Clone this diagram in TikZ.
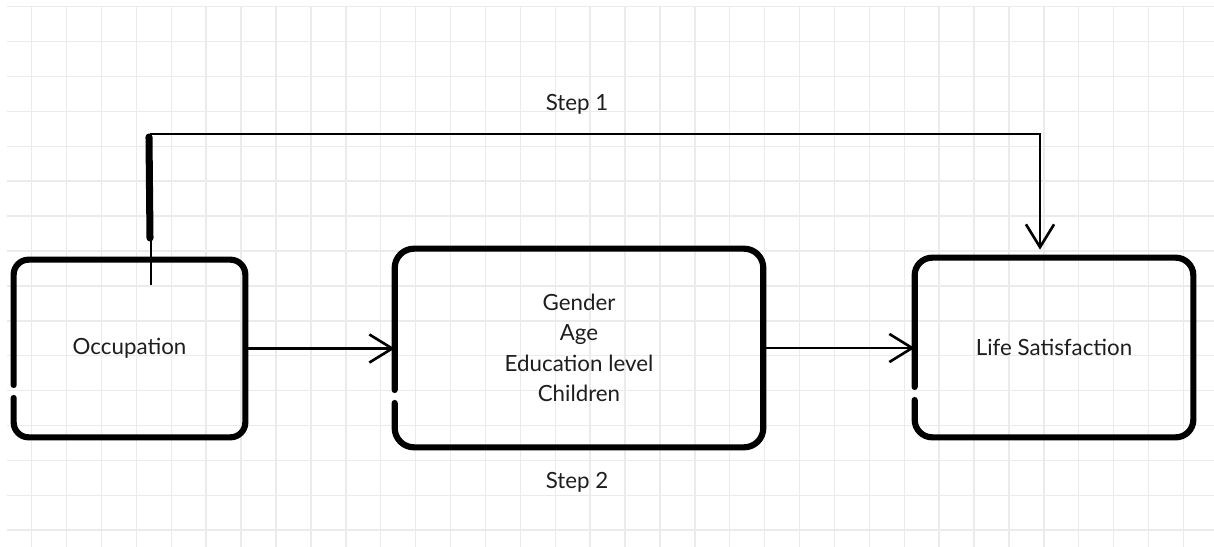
\documentclass[tikz,border=0pt]{standalone}
\usepackage{fontspec}
\setmainfont{Lato}
\usetikzlibrary{arrows.meta}
\definecolor{gridgray}{HTML}{EBEBEB}
\definecolor{ink}{HTML}{1E1E1E}
\begin{document}
\begin{tikzpicture}[x=0.02cm,y=-0.02cm]
		\tikzset{box/.style = {shape=rectangle,align=center,text=ink,font=\fontsize{12.7pt}{17.4pt}\selectfont}}
		\tikzset{border/.style = {draw=black,line width=3.5pt,rounded corners=10pt,line cap=round}}
		\tikzset{link/.style = {-{Straight Barb[length=13pt,width=16pt,line width=1.5pt]},draw=black,line width=1.6pt}}
		\tikzset{label/.style = {text=ink,font=\fontsize{12.7pt}{14pt}\selectfont}}
		\useasboundingbox (0,0) rectangle (1214,547);
		\fill[white] (0,0) rectangle (1214,547);
		% grid
		\foreach \k in {0,...,33}
			\draw[gridgray,line width=0.8pt] (31.7+34.9*\k,7) -- (31.7+34.9*\k,547);
		\foreach \k in {0,...,15}
			\draw[gridgray,line width=0.8pt] (7,6.7+34.9*\k) -- (1214,6.7+34.9*\k);
		% boxes
		\node[box,minimum width=4.62cm,minimum height=3.54cm] (occ) at (129.5,348.5) {Occupation};
		\node[box,minimum width=7.36cm,minimum height=3.96cm] (ctrl) at (579,348) {Gender\\Age\\Education level\\Children};
		\node[box,minimum width=5.56cm,minimum height=3.58cm] (life) at (1054,347.5) {Life Satisfaction};
		\draw[border,rounded corners=8.5pt] ([yshift=-0.73cm]occ.west) -- (occ.north west) -- (occ.north east) -- (occ.south east) -- (occ.south west) -- ([yshift=-0.99cm]occ.west);
		\draw[border,rounded corners=11pt] ([yshift=-0.84cm]ctrl.west) -- (ctrl.north west) -- (ctrl.north east) -- (ctrl.south east) -- (ctrl.south west) -- ([yshift=-1.10cm]ctrl.west);
		\draw[border] ([yshift=-0.79cm]life.west) -- (life.north west) -- (life.north east) -- (life.south east) -- (life.south west) -- ([yshift=-1.05cm]life.west);
		% step 1
		\coordinate (s1) at (151,285);
		\draw[link] (s1) -- (s1 |- 0,134) -| ([xshift=-0.28cm,yshift=0.16cm]life.north);
		\draw[line width=4pt,line cap=round] (149,137) -- (150,238);
		\node[label] (step1) at (577,104) {Step 1};
		% step 2
		\draw[link] (occ.east) -- (occ.east -| ctrl.west);
		\draw[link] (ctrl.east) -- (ctrl.east -| life.west);
		\node[label] (step2) at (577,482) {Step 2};
	\end{tikzpicture}
\end{document}
